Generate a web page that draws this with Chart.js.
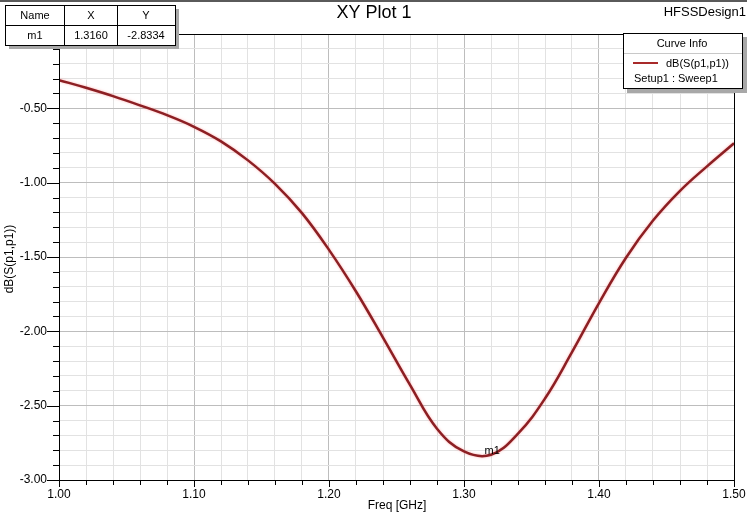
<!DOCTYPE html>
<html>
<head>
<meta charset="utf-8">
<script src="https://cdn.jsdelivr.net/npm/chart.js@4/dist/chart.umd.min.js"></script>
<style>
  html, body { margin: 0; padding: 0; background: #ffffff; }
  #wrap { width: 747px; height: 516px; position: relative; }
  canvas { display: block; }
</style>
</head>
<body>
<div id="wrap"><canvas id="c" width="747" height="516"></canvas></div>
<script>
// ---- Data ----
const freqGHz = [1.00, 1.02, 1.04, 1.06, 1.08, 1.10, 1.12, 1.14, 1.16, 1.18, 1.20, 1.22, 1.24, 1.26, 1.28, 1.30, 1.32, 1.34, 1.36, 1.38, 1.40, 1.42, 1.44, 1.46, 1.48, 1.50];
const s11dB   = [-0.310, -0.362, -0.418, -0.480, -0.546, -0.624, -0.722, -0.850, -1.008, -1.205, -1.452, -1.732, -2.042, -2.360, -2.655, -2.808, -2.830, -2.688, -2.452, -2.140, -1.810, -1.505, -1.255, -1.055, -0.890, -0.735];
const xTickLabels = ['1.00', '1.10', '1.20', '1.30', '1.40', '1.50'];
const yTickLabels = ['-3.00', '-2.50', '-2.00', '-1.50', '-1.00', '-0.50'];
const markerName = 'm1';
const markerX = 1.3160;
const markerY = -2.8334;
const seriesName = 'dB(S(p1,p1))';
const sweepName = 'Setup1 : Sweep1';
const plotTitle = 'XY Plot 1';
const designName = 'HFSSDesign1';
const xAxisTitle = 'Freq [GHz]';
const yAxisTitle = 'dB(S(p1,p1))';

const FONT = '"Liberation Sans", Arial, sans-serif';
const isMult = (v, step) => Math.abs(v / step - Math.round(v / step)) < 1e-6;

const decorPlugin = {
  id: 'decor',
  beforeDatasetDraw(chart) {
    const ctx = chart.ctx;
    ctx.save();
    ctx.shadowColor = 'rgba(255,120,120,0.6)';
    ctx.shadowBlur = 2.5;
  },
  afterDatasetDraw(chart) {
    chart.ctx.restore();
  },
  afterDraw(chart) {
    const ctx = chart.ctx;
    const a = chart.chartArea;
    const xs = chart.scales.x, ys = chart.scales.y;
    ctx.save();

    // plot border
    ctx.strokeStyle = '#000';
    ctx.lineWidth = 1;
    ctx.strokeRect(Math.round(a.left) + 0.5, Math.round(a.top) + 0.5, Math.round(a.right - a.left), Math.round(a.bottom - a.top));

    // tick marks
    ctx.beginPath();
    xs.ticks.forEach(t => {
      const px = Math.round(xs.getPixelForValue(t.value)) + 0.5;
      const len = isMult(t.value, 0.1) ? 7 : 5;
      ctx.moveTo(px, a.bottom); ctx.lineTo(px, a.bottom + len);
    });
    ys.ticks.forEach(t => {
      const py = Math.round(ys.getPixelForValue(t.value)) + 0.5;
      const len = isMult(t.value, 0.5) ? 12 : 6;
      ctx.moveTo(a.left, py); ctx.lineTo(a.left - len, py);
    });
    ctx.stroke();

    // window top line
    ctx.fillStyle = '#5a5a5a';
    ctx.fillRect(0, 0, 747, 2);

    // title & design name
    ctx.fillStyle = '#000';
    ctx.textBaseline = 'middle';
    ctx.font = '18px ' + FONT;
    ctx.textAlign = 'center';
    ctx.fillText(plotTitle, 374, 13);
    ctx.font = '13px ' + FONT;
    ctx.textAlign = 'right';
    ctx.fillText(designName, 746, 12);

    // axis titles
    ctx.font = '12px ' + FONT;
    ctx.textAlign = 'center';
    ctx.fillText(xAxisTitle, 397, 506);
    ctx.save();
    ctx.translate(10, 259);
    ctx.rotate(-Math.PI / 2);
    ctx.fillText(yAxisTitle, 0, 0);
    ctx.restore();

    // marker label
    const mx = xs.getPixelForValue(markerX), my = ys.getPixelForValue(markerY);
    ctx.font = '11px ' + FONT;
    ctx.textAlign = 'left';
    ctx.textBaseline = 'alphabetic';
    ctx.fillText(markerName, mx - 1, my - 1);

    // marker table
    ctx.fillStyle = '#a8a8a8';
    ctx.fillRect(9, 9, 170, 40);
    ctx.fillStyle = '#fff';
    ctx.fillRect(5, 5, 170, 40);
    ctx.strokeStyle = '#000';
    ctx.lineWidth = 1;
    ctx.strokeRect(5.5, 5.5, 170, 40);
    ctx.beginPath();
    ctx.moveTo(5, 25.5); ctx.lineTo(175, 25.5);
    ctx.moveTo(64.5, 5); ctx.lineTo(64.5, 45);
    ctx.moveTo(117.5, 5); ctx.lineTo(117.5, 45);
    ctx.stroke();
    ctx.fillStyle = '#000';
    ctx.font = '11px ' + FONT;
    ctx.textAlign = 'center';
    ctx.textBaseline = 'middle';
    ctx.fillText('Name', 35, 15.5);
    ctx.fillText('X', 91, 15.5);
    ctx.fillText('Y', 146, 15.5);
    ctx.fillText(markerName, 35, 35.5);
    ctx.fillText(markerX.toFixed(4), 91, 35.5);
    ctx.fillText(markerY.toFixed(4), 146, 35.5);

    // legend box
    ctx.fillStyle = '#a8a8a8';
    ctx.fillRect(627, 37, 120, 56);
    ctx.fillStyle = '#fff';
    ctx.fillRect(623, 33, 119, 55);
    ctx.strokeStyle = '#000';
    ctx.strokeRect(623.5, 33.5, 119, 55);
    ctx.strokeStyle = '#c8c8c8';
    ctx.beginPath();
    ctx.moveTo(624, 53.5); ctx.lineTo(742, 53.5);
    ctx.stroke();
    ctx.fillStyle = '#000';
    ctx.textAlign = 'center';
    ctx.fillText('Curve Info', 682, 43.5);
    ctx.strokeStyle = '#a82a2a';
    ctx.lineWidth = 2;
    ctx.beginPath();
    ctx.moveTo(633, 63); ctx.lineTo(658, 63);
    ctx.stroke();
    ctx.textAlign = 'left';
    ctx.fillText(seriesName, 666, 63.5);
    ctx.fillText(sweepName, 634, 78.5);

    ctx.restore();
  }
};

new Chart(document.getElementById('c'), {
  type: 'line',
  data: {
    datasets: [{
      label: seriesName,
      data: freqGHz.map((f, i) => ({ x: f, y: s11dB[i] })),
      borderColor: '#8c1f23',
      borderWidth: 2.5,
      pointRadius: 0,
      fill: false,
      tension: 0.4
    }]
  },
  options: {
    responsive: false,
    devicePixelRatio: 1,
    animation: false,
    layout: { padding: { left: 0, right: 13, top: 34, bottom: 0 } },
    plugins: { legend: { display: false }, title: { display: false }, tooltip: { enabled: false } },
    scales: {
      x: {
        type: 'linear',
        min: 1.0,
        max: 1.5,
        afterFit(s) { s.height = 36; s.paddingLeft = 0; s.paddingRight = 0; },
        ticks: {
          stepSize: 0.02,
          autoSkip: false,
          maxRotation: 0,
          padding: 7,
          color: '#000',
          font: { family: FONT, size: 12 },
          callback(v) {
            if (!isMult(v, 0.1)) return '';
            const s = v.toFixed(2);
            return xTickLabels.includes(s) ? s : '';
          }
        },
        grid: {
          drawTicks: false,
          color(c) { return c.tick && isMult(c.tick.value, 0.1) ? '#bdbdbd' : '#e2e2e2'; },
          lineWidth: 1
        },
        border: { display: true, color: '#000', width: 1 }
      },
      y: {
        type: 'linear',
        min: -3.0,
        max: 0.0,
        afterFit(s) { s.width = 59; s.paddingTop = 0; s.paddingBottom = 0; },
        ticks: {
          stepSize: 0.1,
          autoSkip: false,
          padding: 12,
          color: '#000',
          font: { family: FONT, size: 12 },
          callback(v) {
            if (!isMult(v, 0.5) || v > -0.01) return '';
            const s = v.toFixed(2);
            return yTickLabels.includes(s) ? s : '';
          }
        },
        grid: {
          drawTicks: false,
          color(c) { return c.tick && isMult(c.tick.value, 0.5) ? '#bdbdbd' : '#e2e2e2'; },
          lineWidth: 1
        },
        border: { display: true, color: '#000', width: 1 }
      }
    }
  },
  plugins: [decorPlugin]
});
</script>
</body>
</html>
